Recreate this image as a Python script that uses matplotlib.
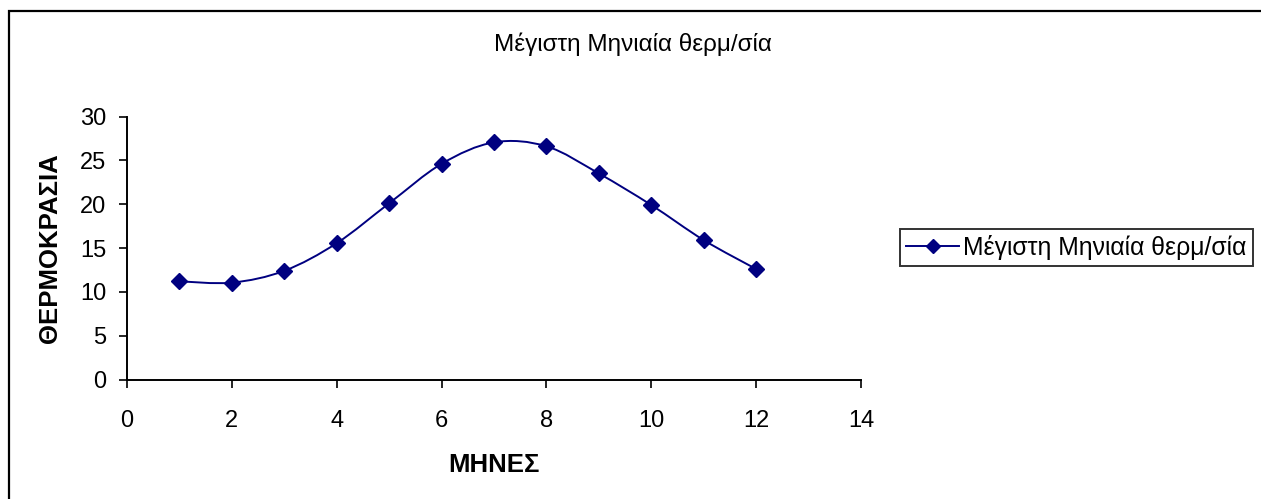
import numpy as np
import matplotlib
matplotlib.use("Agg")
from matplotlib import pyplot as plt
from matplotlib.path import Path
from matplotlib.patches import PathPatch, Rectangle
from matplotlib.lines import Line2D

plt.rcParams['font.family'] = ['Liberation Sans', 'DejaVu Sans']

# data
months = [1, 2, 3, 4, 5, 6, 7, 8, 9, 10, 11, 12]
temps = [11.2, 11.05, 12.4, 15.55, 20.1, 24.6, 27.05, 26.6, 23.5, 19.9, 15.9, 12.6]
title = "Μέγιστη Μηνιαία θερμ/σία"
series_name = "Μέγιστη Μηνιαία θερμ/σία"
xlabel = "ΜΗΝΕΣ"
ylabel = "ΘΕΡΜΟΚΡΑΣΙΑ"
xticks = [0, 2, 4, 6, 8, 10, 12, 14]
yticks = [0, 5, 10, 15, 20, 25, 30]

navy = "#000080"


def smooth_path(xs, ys):
    # Excel style smoothed line: bezier segments with 1/6 tangents
    pts = np.column_stack([xs, ys]).astype(float)
    n = len(pts)
    verts = [pts[0]]
    codes = [Path.MOVETO]
    for i in range(n - 1):
        p0 = pts[i - 1] if i > 0 else pts[i]
        p1 = pts[i]
        p2 = pts[i + 1]
        p3 = pts[i + 2] if i + 2 < n else pts[i + 1]
        verts += [p1 + (p2 - p0) / 6, p2 - (p3 - p1) / 6, p2]
        codes += [Path.CURVE4] * 3
    return Path(verts, codes)


fig = plt.figure(figsize=(12.61, 4.99), dpi=100)
W, H = 1261, 499

# outer chart border
fig.add_artist(Rectangle((9 / W, -0.1), 1.0, (1 - 11 / H) + 0.1, transform=fig.transFigure,
                         fill=False, edgecolor="black", linewidth=1.6, clip_on=False))

ax = fig.add_axes([127 / W, 1 - 379.5 / H, (861 - 127) / W, (379.5 - 116.5) / H])

ax.add_patch(PathPatch(smooth_path(months, temps), facecolor="none", edgecolor=navy, linewidth=1.4))
ax.plot(months, temps, linestyle="none", marker="D", markersize=8, color=navy)

ax.set_xlim(0, 14)
ax.set_ylim(0, 30)
ax.set_xticks(xticks)
ax.set_yticks(yticks)
for s in ["top", "right"]:
    ax.spines[s].set_visible(False)
for s in ["left", "bottom"]:
    ax.spines[s].set_linewidth(1.4)
ax.tick_params(axis="both", direction="out", length=6, width=1.2, labelsize=17)
ax.tick_params(axis="y", pad=9)
ax.tick_params(axis="x", pad=16)

ax.set_xlabel(xlabel, fontsize=18.5, fontweight="bold", labelpad=15)
ax.set_ylabel(ylabel, fontsize=18.5, fontweight="bold", labelpad=13)

fig.text(0.502, 1 - 44 / H, title, ha="center", va="center", fontsize=17.5)

handle = Line2D([], [], color=navy, linewidth=1.4, marker="D", markersize=7.5)
leg = fig.legend([handle], [series_name], loc="center left",
                 bbox_to_anchor=(900 / W, 1 - 247.5 / H), fontsize=17.8,
                 frameon=True, fancybox=False, shadow=False, borderpad=0.25,
                 handlelength=2.15, handletextpad=0.16, borderaxespad=0)
leg.get_frame().set_edgecolor("black")
leg.get_frame().set_linewidth(1.4)

fig.savefig("out.png", dpi=100)
